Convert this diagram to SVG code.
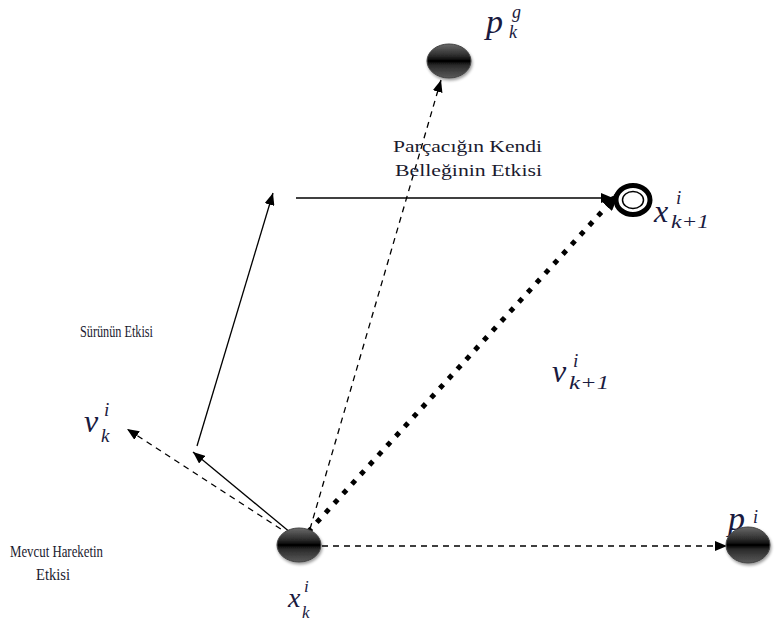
<svg xmlns="http://www.w3.org/2000/svg" width="779" height="626" viewBox="0 0 779 626">
<defs>
<linearGradient id="ball" x1="0" y1="0" x2="0" y2="1">
<stop offset="0" stop-color="#6a6a6a"/>
<stop offset="0.35" stop-color="#2a2a2a"/>
<stop offset="0.5" stop-color="#000"/>
<stop offset="0.62" stop-color="#2a2a2a"/>
<stop offset="1" stop-color="#5a5a5a"/>
</linearGradient>
<marker id="ah" markerWidth="12" markerHeight="10" refX="12" refY="5" orient="auto" markerUnits="userSpaceOnUse">
<path d="M0,0 L12,5 L0,10 Z" fill="#000"/>
</marker>
<marker id="ahBig" markerWidth="18" markerHeight="14" refX="18" refY="7" orient="auto" markerUnits="userSpaceOnUse">
<path d="M0,0 L18,7 L0,14 Z" fill="#000"/>
</marker>
<filter id="sh" x="-30%" y="-30%" width="160%" height="170%">
<feGaussianBlur in="SourceAlpha" stdDeviation="1.5"/>
<feOffset dx="1" dy="2" result="b"/>
<feComponentTransfer><feFuncA type="linear" slope="0.4"/></feComponentTransfer>
<feMerge><feMergeNode/><feMergeNode in="SourceGraphic"/></feMerge>
</filter>
</defs>
<style>
.ball{fill:url(#ball);stroke:#444;stroke-width:1;filter:url(#sh)}
.ln{stroke:#000;stroke-width:1.3;fill:none}
.dash{stroke-dasharray:6 5}
.dot{stroke-width:5;stroke-dasharray:5 8}
.lbl{fill:#1a1a2e}
.m{font-style:italic;fill:#1a1a40}
text{font-family:"Liberation Serif","Times New Roman","DejaVu Serif",serif}
</style>
<rect width="779" height="626" fill="#fff"/>
<g id="connectors">
<line class="ln dash" x1="310" y1="529" x2="441" y2="80" marker-end="url(#ah)"/>
<line class="ln dot" x1="308" y1="532" x2="619" y2="193" marker-end="url(#ahBig)"/>
<line class="ln dash" x1="290" y1="535" x2="127" y2="429" marker-end="url(#ah)"/>
<line class="ln" x1="291" y1="533" x2="193" y2="452" marker-end="url(#ah)"/>
<line class="ln" x1="197" y1="446" x2="273" y2="193" marker-end="url(#ah)"/>
<line class="ln" x1="296" y1="198" x2="613" y2="198" marker-end="url(#ah)"/>
<line class="ln dash" x1="322" y1="546" x2="727" y2="546" marker-end="url(#ah)"/>
</g>
<g id="node-xk">
<ellipse class="ball" cx="299" cy="545" rx="22" ry="17"/>
<text class="m" x="288" y="607" font-size="28">x</text>
<text class="m" x="304" y="592" font-size="17">i</text>
<text class="m" x="302" y="618" font-size="17">k</text>
</g>
<g id="node-pg">
<ellipse class="ball" cx="449" cy="61" rx="22" ry="17"/>
<text class="m" x="486" y="33" font-size="34">p</text>
<text class="m" x="512" y="18" font-size="18">g</text>
<text class="m" x="509" y="38" font-size="18">k</text>
</g>
<g id="node-pi">
<text class="m" x="728" y="530" font-size="34">p</text>
<text class="m" x="753" y="523" font-size="18">i</text>
<ellipse class="ball" cx="748" cy="545" rx="22" ry="18"/>
</g>
<g id="node-xk1">
<ellipse cx="633" cy="200" rx="17" ry="14.5" fill="#fff" stroke="#000" stroke-width="5"/>
<ellipse cx="633" cy="200" rx="10.5" ry="8.5" fill="#fff" stroke="#000" stroke-width="1.5"/>
<text class="m" x="654" y="222" font-size="32">x</text>
<text class="m" x="676" y="204" font-size="19">i</text>
<text class="m" x="671" y="228" font-size="19" textLength="38" lengthAdjust="spacingAndGlyphs">k+1</text>
</g>
<g id="node-vk">
<text class="m" x="84" y="432" font-size="32">v</text>
<text class="m" x="104" y="416" font-size="19">i</text>
<text class="m" x="101" y="442" font-size="19">k</text>
</g>
<g id="node-vk1">
<text class="m" x="552" y="382" font-size="32">v</text>
<text class="m" x="573" y="367" font-size="19">i</text>
<text class="m" x="569" y="389" font-size="19" textLength="40" lengthAdjust="spacingAndGlyphs">k+1</text>
</g>
<g id="labels">
<text class="lbl" x="393" y="152" font-size="17" textLength="149" lengthAdjust="spacingAndGlyphs">Parçacığın Kendi</text>
<text class="lbl" x="395" y="176" font-size="17" textLength="147" lengthAdjust="spacingAndGlyphs">Belleğinin Etkisi</text>
<text class="lbl" x="80" y="337" font-size="17" textLength="73" lengthAdjust="spacingAndGlyphs">Sürünün Etkisi</text>
<text class="lbl" x="10" y="557" font-size="17" textLength="93" lengthAdjust="spacingAndGlyphs">Mevcut Hareketin</text>
<text class="lbl" x="36" y="580" font-size="17" textLength="34" lengthAdjust="spacingAndGlyphs">Etkisi</text>
</g>
</svg>
